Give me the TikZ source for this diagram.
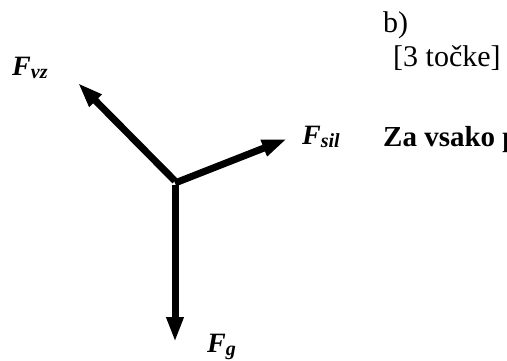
\documentclass[tikz,border=0pt]{standalone}
\usepackage{fontspec}
\setmainfont{Liberation Serif}
\usetikzlibrary{arrows.meta}
\tikzset{
  force/.style={line width=7pt, line cap=butt, -{Triangle[length=25pt,width=16pt]}},
  lbl/.style={anchor=base west, inner sep=0pt, font=\fontsize{28}{32}\selectfont\bfseries\itshape},
  txt/.style={anchor=base west, inner sep=0pt, font=\fontsize{30}{34}\selectfont},
}
\newcommand{\subtxt}[1]{\raisebox{-3pt}{\fontsize{20}{20}\selectfont #1}}
\begin{document}
\begin{tikzpicture}[x=1pt,y=-1pt]
\useasboundingbox (0,0) rectangle (507,361);
\clip (0,0) rectangle (507,361);
\coordinate (o1) at (175,181);
\coordinate (o2) at (175,183);
\coordinate (o3) at (175,185);
\coordinate (tvz) at (78,83);
\coordinate (tsil) at (287,139);
\coordinate (tg) at (175,342);
\draw[force] (o1) -- (tvz);
\draw[force] (o2) -- (tsil);
\draw[force] (o3) -- (tg);
\node[lbl] (Fvz) at (12,76) {F\subtxt{vz}};
\node[lbl] (Fsil) at (302,145) {F\subtxt{sil}};
\node[lbl] (Fg) at (207,352) {F\subtxt{g}};
\node[txt] (b) at (383,33) {b)};
\node[txt] (pts) at (393,67) {[3 točke]};
\node[txt, font=\fontsize{29}{34}\selectfont\bfseries] (za) at (383,147) {Za vsako p};
\end{tikzpicture}
\end{document}
